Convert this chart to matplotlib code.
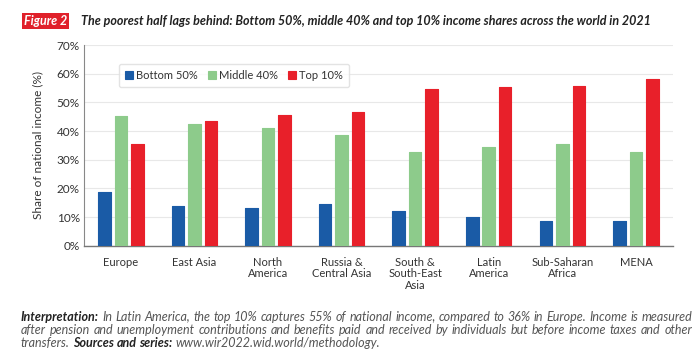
import numpy as np
import matplotlib.pyplot as plt

# Data
regions = ['Europe', 'East Asia', 'North\nAmerica', 'Russia &\nCentral Asia',
           'South &\nSouth-East\nAsia', 'Latin\nAmerica', 'Sub-Saharan\nAfrica', 'MENA']
bottom50 = [18.6, 13.8, 13.1, 14.7, 12.2, 10.0, 8.8, 8.8]
middle40 = [45.2, 42.6, 41.0, 38.5, 32.7, 34.3, 35.4, 32.7]
top10 = [35.6, 43.4, 45.7, 46.6, 54.8, 55.4, 55.7, 58.0]
series_names = ['Bottom 50%', 'Middle 40%', 'Top 10%']
colors = ['#1a5ba6', '#8dcb8b', '#e8202a']

plt.rcParams['font.family'] = ['Lato', 'DejaVu Sans']

W, H = 700, 363
fig = plt.figure(figsize=(7, 3.63), dpi=100)
ax = fig.add_axes([0.12, 0.323, 0.841, 0.553])

x = np.arange(len(regions))
width = 0.17
offset = 0.224
for i, (vals, name, c) in enumerate(zip([bottom50, middle40, top10], series_names, colors)):
    ax.bar(x + (i - 1) * offset, vals, width, color=c, edgecolor=c,
           linewidth=0.8, joinstyle='round', label=name, zorder=3)

ax.set_xlim(-0.5, 7.5)
ax.set_ylim(0, 70)
ax.set_yticks(np.arange(0, 71, 10))
ax.set_yticklabels([f'{v}%' for v in range(0, 71, 10)], fontsize=8.5, color='#333333')
ax.set_xticks(x)
ax.set_xticklabels(regions, fontsize=8, color='#333333', linespacing=1.05)
ax.tick_params(axis='both', length=0, pad=3)
ax.tick_params(axis='x', pad=8)
ax.grid(axis='y', color='#e8e8e8', linewidth=0.8, zorder=0)
for s in ['top', 'right']:
    ax.spines[s].set_visible(False)
ax.spines['left'].set_color('#888888')
ax.spines['bottom'].set_color('#777777')
ax.spines['left'].set_linewidth(0.8)
ax.spines['bottom'].set_linewidth(1.0)
ax.set_ylabel('Share of national income (%)', fontsize=8.5, color='#333333', labelpad=10)

leg = ax.legend(loc='upper left', bbox_to_anchor=(0.05, 0.935), ncol=3, fontsize=8,
                frameon=True, handlelength=0.7, handleheight=0.7, handletextpad=0.3,
                columnspacing=0.9, borderpad=0.55, fancybox=True, edgecolor='#dddddd')
for t in leg.get_texts():
    t.set_color('#333333')

# Title
fig.text(0.034, 0.942, 'Figure 2', fontsize=9, color='white', fontweight='bold',
         style='italic', va='center', ha='left',
         bbox=dict(boxstyle='square,pad=0.18', fc='#e0202a', ec='none'))
fig.text(0.116, 0.942, 'The poorest half lags behind: Bottom 50%, middle 40% and top 10% income shares across the world in 2021',
         fontsize=9, fontweight='bold', style='italic', color='#222222', va='center', ha='left')

# Footnote, justified between left and right edges
fs = 9.0
left_px, right_px = 21, 692
r = fig.canvas.get_renderer()


def word_items(segments):
    items = []
    for txt, bold in segments:
        for w in txt.split():
            items.append((w, bold))
    return items


def put_line(segments, y, justify):
    items = word_items(segments)
    texts = []
    for w, bold in items:
        t = fig.text(0, y, w, fontsize=fs, style='italic', va='center', ha='left',
                     fontweight='bold' if bold else 'normal',
                     color='#222222' if bold else '#555555')
        texts.append(t)
    widths = [t.get_window_extent(r).width for t in texts]
    space = fig.text(0, 0, 'a a', fontsize=fs, style='italic').get_window_extent(r).width - \
        2 * fig.text(0, 0, 'a', fontsize=fs, style='italic').get_window_extent(r).width
    fig.texts[-2:] = []
    if justify:
        gap = (right_px - left_px - sum(widths)) / (len(texts) - 1)
    else:
        gap = space
    xp = left_px
    for t, wd in zip(texts, widths):
        t.set_x(xp / W)
        xp += wd + gap


fig.canvas.draw()
put_line([('Interpretation:', True),
          ('In Latin America, the top 10% captures 55% of national income, compared to 36% in Europe. Income is measured', False)],
         0.128, True)
put_line([('after pension and unemployment contributions and benefits paid and received by individuals but before income taxes and other', False)],
         0.092, True)
put_line([('transfers.', False), ('Sources and series:', True), ('www.wir2022.wid.world/methodology.', False)],
         0.056, False)

fig.savefig('out.png', dpi=100)
